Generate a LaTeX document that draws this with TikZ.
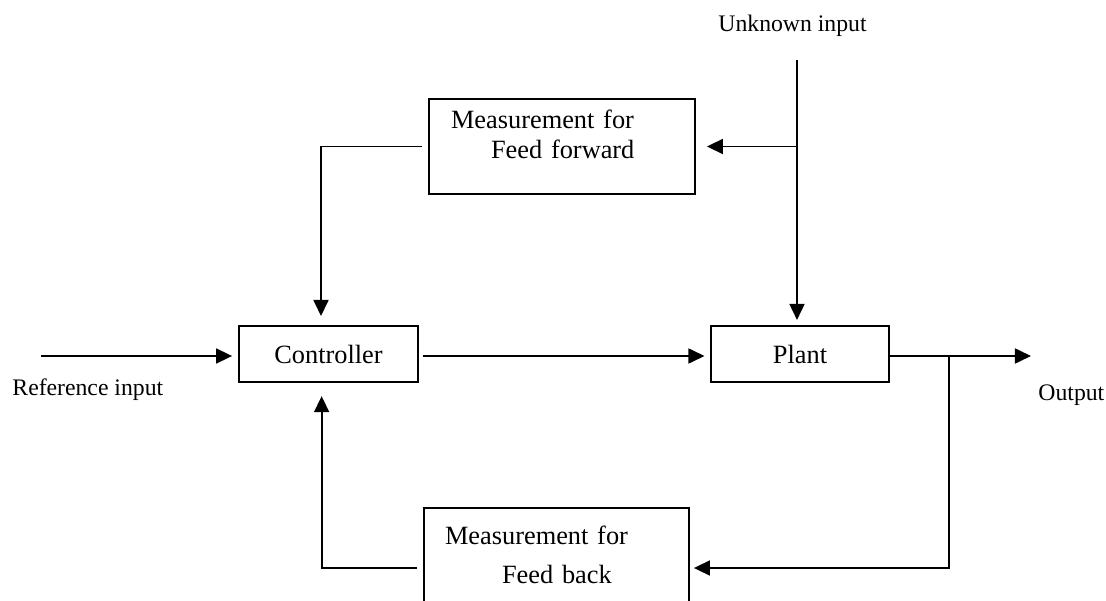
\documentclass[tikz,border=0pt]{standalone}
\usepackage{fontspec}
\setmainfont{Liberation Serif}
\usetikzlibrary{arrows.meta}

\tikzset{
  block/.style={draw,line width=0.9pt,minimum width=2.864cm,minimum height=0.896cm,
                inner sep=0pt,font=\fontsize{12}{14}\selectfont},
  meas/.style={draw,line width=0.9pt,align=left,inner ysep=0pt},
  sig/.style={line width=0.9pt,-{Triangle[length=7.3pt,width=6.8pt]}},
  wire/.style={line width=0.9pt},
  lbl/.style={anchor=base west,inner sep=0pt,font=\fontsize{10.8}{13}\selectfont}
}

\begin{document}
\begin{tikzpicture}[x=0.016cm,y=-0.016cm]
        \path[use as bounding box,clip] (0,0) rectangle (1106,601);

        % blocks
        \node[block] (ctrl) at (328.5,354) {Controller};
        \node[block] (plant) at (800,354) {Plant};
        \node[meas,minimum height=1.52cm,text width=3.552cm,inner xsep=0.352cm,
              font=\fontsize{12}{13.66}\selectfont] (ff) at (562,146.5)
              {Measurement for\\\hspace*{0.64cm}Feed forward\rule[-11pt]{0pt}{0pt}};
        \node[meas,minimum height=1.92cm,text width=3.568cm,inner xsep=0.336cm,
              font=\fontsize{12}{17.76}\selectfont] (fb) at (556.5,568)
              {Measurement for\\\hspace*{0.912cm}Feed back\rule[-12pt]{0pt}{0pt}};

        % free ends
        \coordinate (refin) at (41,356);
        \coordinate (out) at (1031,356);
        \coordinate (unk) at (797,60);
        \coordinate (tap) at (949,356);

        % labels
        \node[lbl] (reflbl) at (12,395) {Reference input};
        \node[lbl] (outlbl) at (1038,401) {Output};
        \node[lbl] (unklbl) at (718,32) {Unknown input};

        % forward path
        \draw[sig,shorten >=2.7pt] (refin) -- (refin -| ctrl.west);
        \draw[sig,shorten <=1.8pt,shorten >=2.3pt] (ctrl.east |- refin) -- (plant.west |- refin);
        \draw[sig] (plant.east |- out) -- (out);

        % unknown input and feed forward
        \draw[sig,shorten >=2.3pt] (unk) -- (unk |- plant.north);
        \draw[sig,shorten >=5pt] (unk |- ff.east) -- (ff.east);
        \draw[sig,shorten <=2.7pt,shorten >=4.1pt] (ff.west) -| ([xshift=-0.12cm]ctrl.north);

        % feed back
        \draw[sig,shorten >=1.8pt] (tap) |- (fb.east);
        \draw[sig,shorten <=2.7pt,shorten >=6pt] (fb.west) -| ([xshift=-0.11cm]ctrl.south);
\end{tikzpicture}
\end{document}
